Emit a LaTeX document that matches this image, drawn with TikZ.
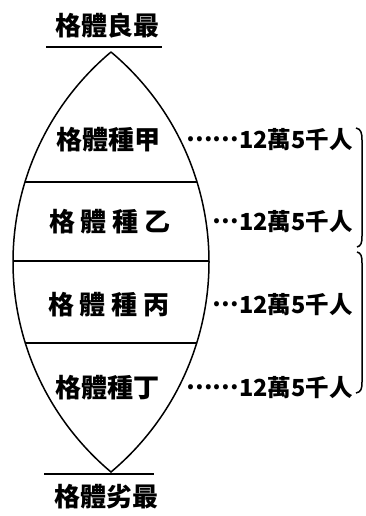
\documentclass[tikz,border=0pt]{standalone}
\usepackage{fontspec}
\newfontfamily\cjk{Noto Sans CJK TC}
\newcommand{\middots}[1]{\raisebox{0.32em}{#1}}
\begin{document}
\begin{tikzpicture}[x=1pt,y=-1pt,
        label text/.style={font=\cjk\bfseries\fontsize{26}{26}\selectfont, inner sep=0pt},
        count text/.style={font=\cjk\bfseries\fontsize{23.5}{24}\selectfont, inner sep=0pt, anchor=east},
        rim/.style={line width=1.5pt},
        rule/.style={line width=1.1pt}]
        \useasboundingbox (0,0) rectangle (366,516);

        % Define the ends
        \node[label text] (top) at (107,26) {格體良最};
        \node[label text] (bot) at (106,497) {格體劣最};

        % Define the rows
        \node[label text] (R1) at (108,140) {格體種甲};
        \node[label text] (R2) at (110,222) {格 體 種 乙};
        \node[label text] (R3) at (109,305) {格 體 種 丙};
        \node[label text] (R4) at (107,388) {格體種丁};

        % Define the counts
        \node[count text] (N1) at (353,140) {\middots{……}12萬5千人};
        \node[count text] (N2) at (353,222) {\middots{…}12萬5千人};
        \node[count text] (N3) at (353,305) {\middots{…}12萬5千人};
        \node[count text] (N4) at (353,388) {\middots{……}12萬5千人};

        % Draw the lens
        \draw[rim] (111,52) .. controls (49,104) and (13,181) .. (13,262)
            .. controls (13,343) and (49,420) .. (111,472)
            .. controls (173,420) and (209,343) .. (209,262)
            .. controls (209,181) and (173,104) .. (111,52);

        % Draw the rows
        \begin{scope}
            \clip (111,52) .. controls (49,104) and (13,181) .. (13,262)
                .. controls (13,343) and (49,420) .. (111,472)
                .. controls (173,420) and (209,343) .. (209,262)
                .. controls (209,181) and (173,104) .. (111,52);
            \draw[rule] (0,182) -- (230,182);
            \draw[rule] (0,261) -- (230,261);
            \draw[rule] (0,343) -- (230,343);
        \end{scope}

        % Draw the rules
        \draw[rule] (46,47) -- (162,47);
        \draw[rule] (44,474) -- (154,474);

        % Draw the brackets
        \draw[rim] (356,128) .. controls (361,129) and (362,133) .. (362,140)
            -- (362,236) .. controls (362,243) and (361,246) .. (357,247);
        \draw[rim] (357,252) .. controls (361,253) and (362,256) .. (362,263)
            -- (362,382) .. controls (362,389) and (361,392) .. (356,393);
    \end{tikzpicture}
\end{document}
